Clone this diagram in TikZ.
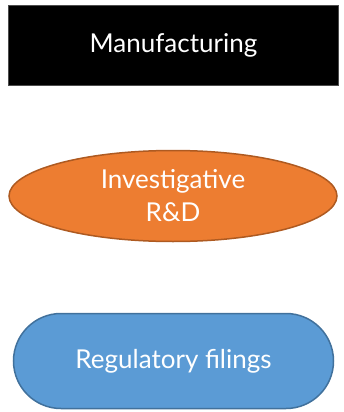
\documentclass[tikz,border=0pt]{standalone}
\usepackage{fontspec}
\setmainfont{Lato}
\usetikzlibrary{shapes.geometric,shapes.misc}
\definecolor{orfill}{HTML}{ED7D31}
\definecolor{ordraw}{HTML}{AE5A21}
\definecolor{blfill}{HTML}{5B9BD5}
\definecolor{bldraw}{HTML}{41719C}
\tikzset{
  lbl/.style={text=white, font=\fontsize{26}{33}\selectfont, align=center, inner sep=0pt},
  boxblack/.style={lbl, rectangle, fill=black, draw=black!70, line width=0.8pt, minimum width=330pt, minimum height=80pt},
  ovalorange/.style={lbl, ellipse, fill=orfill, draw=ordraw, line width=1.5pt, minimum width=328pt, minimum height=91pt},
  pillblue/.style={lbl, rounded rectangle, fill=blfill, draw=bldraw, line width=1.5pt, minimum width=320pt, minimum height=95pt}
}
\begin{document}
\begin{tikzpicture}[x=1pt,y=-1pt]
\useasboundingbox (0,0) rectangle (344,412);
\node[boxblack] (manu) at (173.5,45) {Manufacturing};
\node[ovalorange] (rd) at (173,196) {Investigative\\R\&D};
\node[pillblue] (reg) at (173.5,361) {Regulatory filings};
\end{tikzpicture}
\end{document}
